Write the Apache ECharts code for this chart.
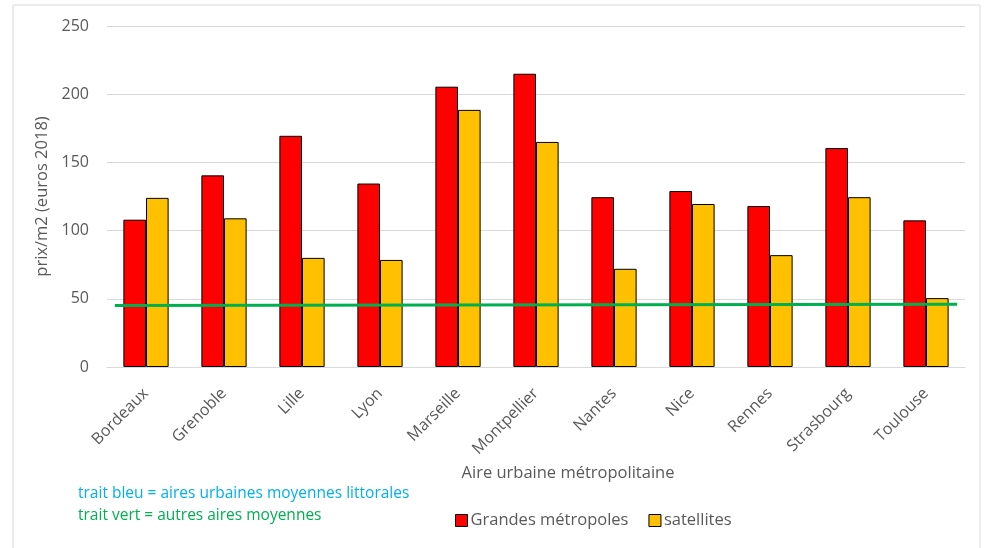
<!DOCTYPE html>
<html>
<head>
<meta charset="utf-8">
<script src="https://cdn.jsdelivr.net/npm/echarts@6/dist/echarts.min.js"></script>
<style>
  html, body { margin: 0; padding: 0; background: #fff; }
  #chart { width: 985px; height: 548px; }
</style>
</head>
<body>
<div id="chart"></div>
<script>
// Prix au m2 par aire urbaine : grandes métropoles vs communes satellites
const categories = ['Bordeaux', 'Grenoble', 'Lille', 'Lyon', 'Marseille', 'Montpellier',
                    'Nantes', 'Nice', 'Rennes', 'Strasbourg', 'Toulouse'];
const metropoles = [108, 140.5, 169.5, 134.5, 205.5, 215, 124.5, 129, 118, 160.5, 107.5];
const satellites = [124, 109, 80, 78.5, 188.5, 165, 72, 119.5, 82, 124.5, 50.5];
// Référence "autres aires moyennes" (trait vert), en position de catégorie
const traitVert = [[0.1, 45], [10.9, 46]];
const yTicks = [0, 50, 100, 150, 200, 250];

const txt = '#595959';
const narrow = '"Liberation Sans Narrow", "Open Sans", sans-serif';
const chart = echarts.init(document.getElementById('chart'));

chart.setOption({
  animation: false,
  textStyle: { fontFamily: '"Open Sans", sans-serif' },
  grid: { left: 107, right: 20, top: 26, bottom: 181, containLabel: false },
  legend: {
    left: 450, top: 507,
    itemWidth: 12, itemHeight: 12, itemGap: 20,
    icon: 'rect',
    data: ['Grandes métropoles', 'satellites'],
    textStyle: { color: txt, fontSize: 16.5, fontFamily: narrow, padding: [0, 0, 0, -2] },
    itemStyle: { borderColor: '#000', borderWidth: 1 }
  },
  xAxis: [{
    type: 'category',
    data: categories,
    name: 'Aire urbaine métropolitaine',
    nameLocation: 'middle',
    nameGap: 89,
    nameTextStyle: { color: txt, fontSize: 16.5, padding: [0, 0, 0, 64] },
    axisLine: { lineStyle: { color: '#D9D9D9' } },
    axisTick: { show: false },
    axisLabel: { rotate: 45, color: txt, fontSize: 16, margin: 24, interval: 0 }
  }, {
    type: 'value', min: 0, max: 11, show: false
  }],
  yAxis: {
    type: 'value',
    min: yTicks[0], max: yTicks[yTicks.length - 1], interval: 50,
    name: 'prix/m2 (euros 2018)',
    nameLocation: 'middle',
    nameGap: 55,
    nameTextStyle: { color: txt, fontSize: 16.5 },
    axisLine: { show: false },
    axisTick: { show: false },
    axisLabel: { color: txt, fontSize: 16, margin: 18 },
    splitLine: { lineStyle: { color: '#D9D9D9', width: 1 } }
  },
  series: [{
    name: 'Grandes métropoles',
    type: 'bar',
    data: metropoles,
    barGap: '0%',
    barCategoryGap: '42%',
    itemStyle: { color: '#FF0000', borderColor: '#000', borderWidth: 1 }
  }, {
    name: 'satellites',
    type: 'bar',
    data: satellites,
    itemStyle: { color: '#FFC000', borderColor: '#000', borderWidth: 1 }
  }, {
    name: 'trait vert',
    type: 'line',
    xAxisIndex: 1,
    data: traitVert,
    symbol: 'none',
    lineStyle: { color: '#00B050', width: 3 },
    z: 5
  }],
  graphic: [{
    type: 'rect',
    shape: { x: 13, y: 5, width: 967, height: 600 },
    style: { fill: 'none', stroke: '#D9D9D9', lineWidth: 1 },
    silent: true
  }, {
    type: 'text', left: 78, top: 486,
    style: { text: 'trait bleu = aires urbaines moyennes littorales', fill: '#00B0F0',
             font: '15.5px ' + narrow }
  }, {
    type: 'text', left: 78, top: 508,
    style: { text: 'trait vert = autres aires moyennes', fill: '#00B050',
             font: '15.5px ' + narrow }
  }]
});
</script>
</body>
</html>
